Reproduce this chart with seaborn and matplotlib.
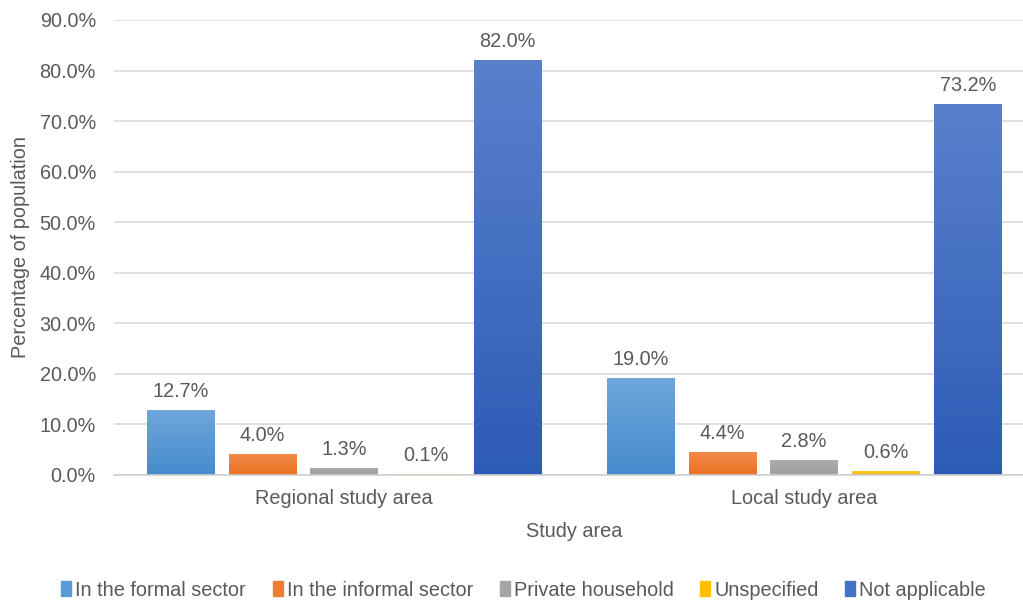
import matplotlib
matplotlib.use("Agg")
import matplotlib.pyplot as plt
import matplotlib.colors as mcolors
import matplotlib.patches as mpatches
import numpy as np
import pandas as pd
import seaborn as sns

areas = ["Regional study area", "Local study area"]
series = ["In the formal sector", "In the informal sector", "Private household",
          "Unspecified", "Not applicable"]
regional = [0.127, 0.040, 0.013, 0.001, 0.820]
local = [0.190, 0.044, 0.028, 0.006, 0.732]
yticks = [0.0, 0.1, 0.2, 0.3, 0.4, 0.5, 0.6, 0.7, 0.8, 0.9]

top_colors = ["#6fa6dc", "#f28a4a", "#ababab", "#ffc72a", "#5a80cc"]
bot_colors = ["#458bcd", "#ea7120", "#9f9f9f", "#f0b800", "#2d5cb6"]
legend_colors = ["#5b9bd5", "#ed7d31", "#a5a5a5", "#ffc000", "#4472c4"]

rows = []
for s, r, l in zip(series, regional, local):
    rows.append({"area": areas[0], "series": s, "value": r})
    rows.append({"area": areas[1], "series": s, "value": l})
df = pd.DataFrame(rows)

sns.set_theme(style="white")
plt.rcParams["font.family"] = ["Liberation Sans", "DejaVu Sans"]
text_color = "#595959"
fs = 14.3

fig = plt.figure(figsize=(10.23, 6.01), dpi=100)
ax = fig.add_axes([114 / 1023, 1 - 475 / 601, (1034 - 114) / 1023, (475 - 20) / 601])

sns.barplot(data=df, x="area", y="value", hue="series", order=areas, hue_order=series,
            palette=legend_colors, width=0.89, gap=0.18, ax=ax, legend=False,
            saturation=1, errorbar=None)

ax.set_ylim(0, 0.9)
ax.set_yticks(yticks)
ax.set_yticklabels([f"{v*100:.1f}%" for v in yticks], fontsize=fs, color=text_color)
ax.tick_params(axis="x", labelsize=fs, colors=text_color, length=0, pad=10)
ax.tick_params(axis="y", length=0, pad=13)
ax.grid(axis="y", color="#d9d9d9", linewidth=1.2)
ax.set_axisbelow(True)
for sp in ["top", "right", "left"]:
    ax.spines[sp].set_visible(False)
ax.spines["bottom"].set_color("#d0d0d0")
ax.spines["bottom"].set_linewidth(1.2)

ax.set_xlabel("Study area", fontsize=fs, color=text_color, labelpad=10)
ax.set_ylabel("Percentage of population", fontsize=fs, color=text_color, labelpad=7)

# gradient fill
for i, container in enumerate(ax.containers):
    cmap = mcolors.LinearSegmentedColormap.from_list("g", [bot_colors[i], top_colors[i]])
    for patch in container:
        x0, y0 = patch.get_x(), patch.get_y()
        w, h = patch.get_width(), patch.get_height()
        if h <= 0:
            continue
        grad = np.linspace(0, 1, 256).reshape(-1, 1)
        ax.imshow(grad, extent=[x0, x0 + w, y0, y0 + h], origin="lower", cmap=cmap,
                  aspect="auto", zorder=patch.get_zorder() + 0.1)
    labels = [f"{v*100:.1f}%" for v in container.datavalues]
    ax.bar_label(container, labels=labels, padding=7, fontsize=fs, color=text_color)

ax.set_xlim(-0.5, 1.5)
ax.set_ylim(0, 0.9)

handles = [mpatches.Patch(color=c, label=s) for c, s in zip(legend_colors, series)]
fig.legend(handles=handles, loc="center", bbox_to_anchor=(0.512, 1 - 590 / 601), ncol=5,
           frameon=False, fontsize=fs, handlelength=0.5, handleheight=0.75,
           handletextpad=0.2, columnspacing=1.35, labelcolor=text_color)

fig.savefig("out.png", dpi=100)
